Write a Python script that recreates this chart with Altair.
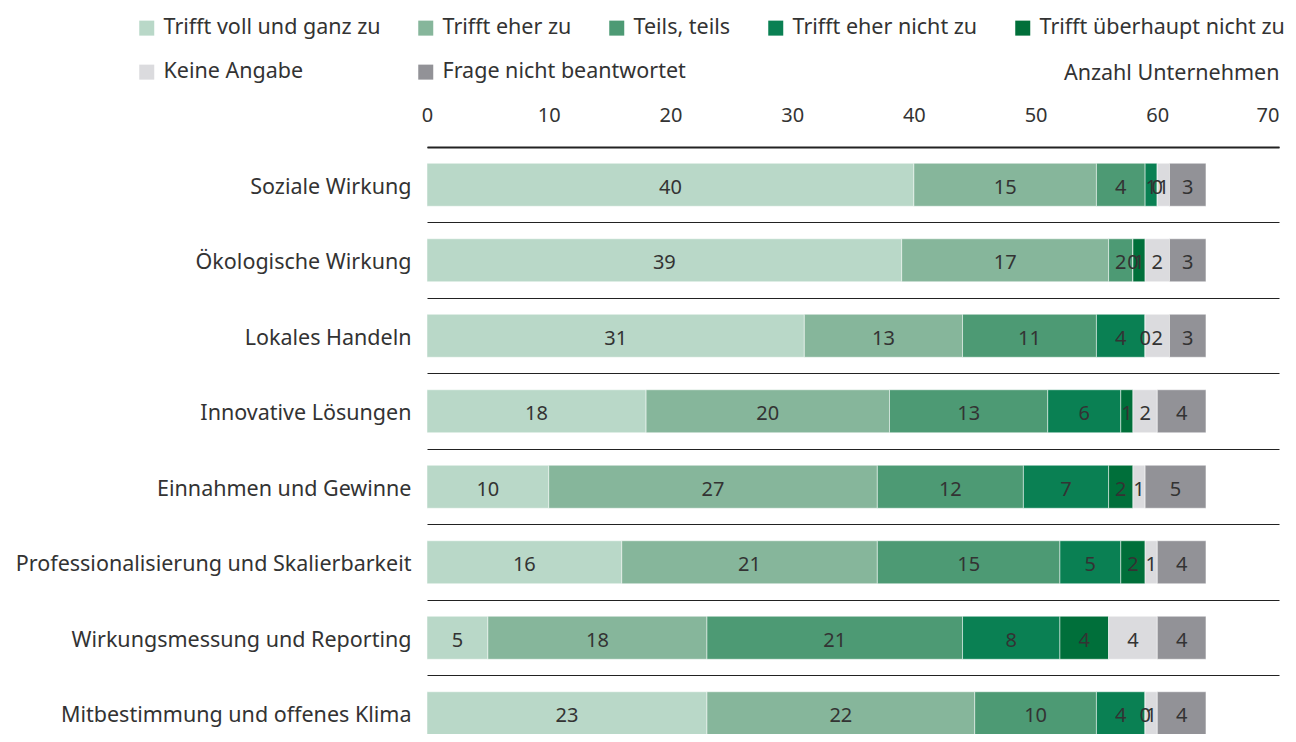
import altair as alt
import pandas as pd

items = [
    "Soziale Wirkung",
    "Ökologische Wirkung",
    "Lokales Handeln",
    "Innovative Lösungen",
    "Einnahmen und Gewinne",
    "Professionalisierung und Skalierbarkeit",
    "Wirkungsmessung und Reporting",
    "Mitbestimmung und offenes Klima",
]
categories = [
    "Trifft voll und ganz zu",
    "Trifft eher zu",
    "Teils, teils",
    "Trifft eher nicht zu",
    "Trifft überhaupt nicht zu",
    "Keine Angabe",
    "Frage nicht beantwortet",
]
colors = ["#b9d8c8", "#86b69b", "#4d9a74", "#0a8053", "#006f3a", "#dbdbde", "#929297"]

voll = [40, 39, 31, 18, 10, 16, 5, 23]
eher = [15, 17, 13, 20, 27, 21, 18, 22]
teils = [4, 2, 11, 13, 12, 15, 21, 10]
eher_nicht = [1, 0, 4, 6, 7, 5, 8, 4]
gar_nicht = [0, 1, 0, 1, 2, 2, 4, 0]
keine = [1, 2, 2, 2, 1, 1, 4, 1]
frage = [3, 3, 3, 4, 5, 4, 4, 4]

series = [voll, eher, teils, eher_nicht, gar_nicht, keine, frage]
rows = []
for ci, (cat, vals) in enumerate(zip(categories, series)):
    for ii, item in enumerate(items):
        rows.append({"item": item, "cat": cat, "order": ci, "value": vals[ii]})
df = pd.DataFrame(rows)

FONT = "Noto Sans"
TXT = "#333333"
FS = 21.5
LS = 21.5
NS = 20

W = 852
H = 587
STEP_RANGE = 604

base = alt.Chart(df).transform_stack(
    stack="value", groupby=["item"], as_=["x0", "x1"],
    sort=[alt.SortField("order", order="ascending")]
)

y_scale = alt.Scale(paddingInner=0, paddingOuter=0, range=[0, STEP_RANGE])
x_scale = alt.Scale(domain=[0, 70], nice=False)

y_axis = alt.Axis(
    grid=True, bandPosition=0, ticks=False, domain=False,
    gridColor="#222222", gridWidth=1.2,
    labelFontSize=FS, labelColor=TXT, labelFont=FONT, labelPadding=16, labelLimit=500,
    labelOffset=3,
)
x_axis = alt.Axis(
    orient="top", values=[0, 10, 20, 30, 40, 50, 60, 70], grid=False, ticks=False,
    domain=True, domainColor="#222222", domainWidth=2.2,
    labelFontSize=NS, labelColor=TXT, labelFont=FONT, labelPadding=22,
    labelAlign=alt.expr("datum.value == 70 ? 'right' : 'center'"),
    titleFontSize=FS, titleFontWeight="normal", titleColor=TXT, titleFont=FONT,
    titleX=W, titleY=-68, titleAlign="right", titleBaseline="alphabetic",
)

y_enc = alt.Y("item:N", sort=items, title=None, scale=y_scale, axis=y_axis)
x_enc = alt.X("x0:Q", title="Anzahl Unternehmen", scale=x_scale, axis=x_axis)

greens = categories[:5]
greys = categories[5:]

legend_common = dict(
    title=None, orient="none", direction="horizontal", legendX=-291,
    symbolType="square", symbolSize=225, symbolStrokeWidth=0,
    labelFontSize=LS, labelColor=TXT, labelFont=FONT, labelOffset=6, labelLimit=400,
)

bars_g = base.transform_filter(
    alt.FieldOneOfPredicate(field="cat", oneOf=greens)
).mark_bar(size=43, stroke="white", strokeWidth=0.5).encode(
    y=y_enc, x=x_enc, x2="x1:Q",
    color=alt.Color(
        "cat:N", sort=greens,
        scale=alt.Scale(domain=greens, range=colors[:5]),
        legend=alt.Legend(columns=5, legendY=-130, columnPadding=34, **legend_common),
    ),
)
bars_k = base.transform_filter(
    alt.FieldOneOfPredicate(field="cat", oneOf=greys)
).mark_bar(size=43, stroke="white", strokeWidth=0.5).encode(
    y=y_enc, x=x_enc, x2="x1:Q",
    fill=alt.Fill(
        "cat:N", sort=greys,
        scale=alt.Scale(domain=greys, range=colors[5:]),
        legend=alt.Legend(columns=2, legendY=-86, columnPadding=111, **legend_common),
    ),
)
labels = base.transform_calculate(mid="(datum.x0 + datum.x1) / 2").mark_text(
    fontSize=NS, color=TXT, font=FONT, baseline="middle", align="center", dy=3
).encode(
    y=y_enc,
    x=alt.X("mid:Q", title="Anzahl Unternehmen", scale=x_scale, axis=x_axis),
    text=alt.Text("value:Q"),
)

chart = alt.layer(bars_g, bars_k, labels).resolve_scale(
    color="independent", fill="independent"
).properties(
    width=W, height=H,
    autosize=alt.AutoSizeParams(type="none"),
    padding={"left": 419, "top": 139, "right": 9, "bottom": 0},
).configure(font=FONT).configure_view(stroke="transparent", strokeWidth=0)

chart.save("out.html", embed_options={"renderer": "svg", "actions": False})
